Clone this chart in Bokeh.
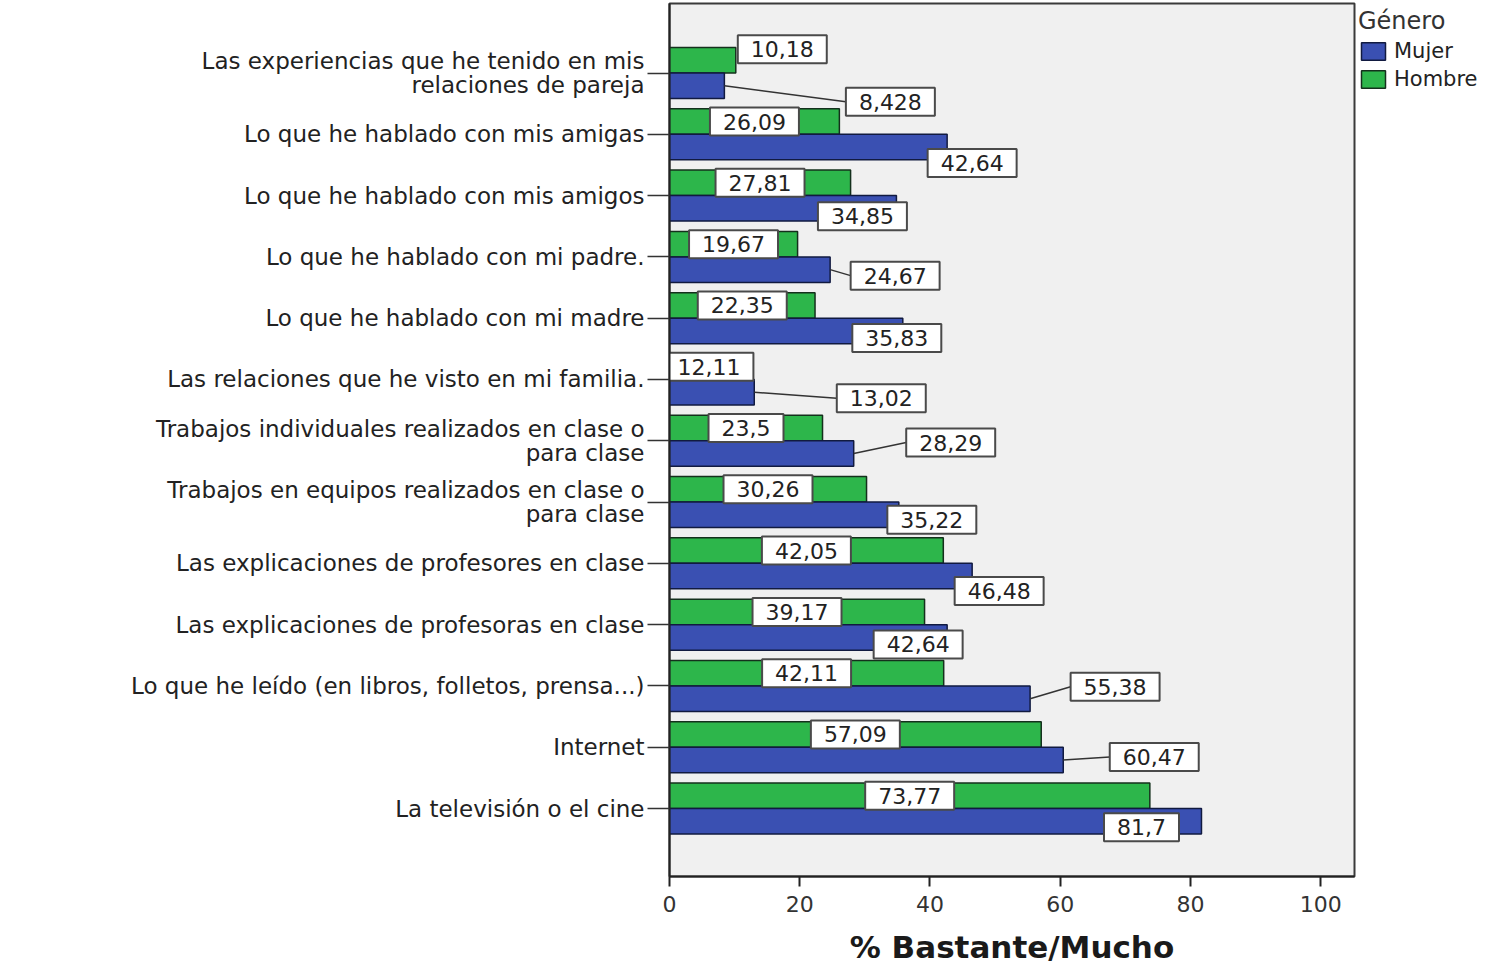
from bokeh.plotting import figure
from bokeh.models import Range1d, FixedTicker, Legend, LegendItem, ColumnDataSource
from bokeh.core.properties import value
from bokeh.embed import file_html
from bokeh.resources import INLINE

# ---------------- data ----------------
categories = [
    "Las experiencias que he tenido en mis\nrelaciones de pareja",
    "Lo que he hablado con mis amigas",
    "Lo que he hablado con mis amigos",
    "Lo que he hablado con mi padre.",
    "Lo que he hablado con mi madre",
    "Las relaciones que he visto en mi familia.",
    "Trabajos individuales realizados en clase o\npara clase",
    "Trabajos en equipos realizados en clase o\npara clase",
    "Las explicaciones de profesores en clase",
    "Las explicaciones de profesoras en clase",
    "Lo que he leído (en libros, folletos, prensa...)",
    "Internet",
    "La televisión o el cine",
]
mujer = [8.428, 42.64, 34.85, 24.67, 35.83, 13.02, 28.29, 35.22, 46.48, 42.64, 55.38, 60.47, 81.7]
hombre = [10.18, 26.09, 27.81, 19.67, 22.35, 12.11, 23.5, 30.26, 42.05, 39.17, 42.11, 57.09, 73.77]
series_names = ["Mujer", "Hombre"]
legend_title = "Género"
x_ticks = [0, 20, 40, 60, 80, 100]
x_title = "% Bastante/Mucho"

# placement of the Mujer value boxes (pixels from the bar end / bar centre, as laid out in the reference)
mujer_label_dx = [166, 25, -34, 65, -6, 127, 97, 33, 27, -29, 85, 91, -60]
mujer_label_dy = [16, 16, 8, 6, 7, 6, -11, 5, 15, 7, -12, -3, 6]

# ---------------- layout constants ----------------
FRAME_W, FRAME_H = 685, 873
X0, X1 = 0, 105.2
Y0, Y1 = -1.109, 13.134
pxu = FRAME_W / (X1 - X0)
pyu = FRAME_H / (Y1 - Y0)
BAR_H = 25.5 / pyu

BLUE = "#3a50b2"
GREEN = "#2db64b"
FONT = "DejaVu Sans"


def fmt(v):
    return str(v).replace(".", ",")


def half_box(txt):
    # approximate half width of a value box in px
    w = sum(7 if c == "," else 14 for c in txt)
    return w / 2 + 13


n = len(categories)
pos = [n - 1 - i for i in range(n)]

green_y = [p_ + BAR_H / 2 for p_ in pos]
blue_y = [p_ - BAR_H / 2 for p_ in pos]

# Hombre labels: centred on the bar; if the bar is too short, beside its end and slightly raised
g_lx, g_ly, g_txt = [], [], []
for v, yy in zip(hombre, green_y):
    t = fmt(v)
    hb = half_box(t)
    if v * pxu < 2 * hb - 20:
        g_lx.append(v + (hb + 2) / pxu)
        g_ly.append(yy + 11 / pyu)
    else:
        g_lx.append(v / 2)
        g_ly.append(yy)
    g_txt.append(t)

# Mujer labels with leader lines
m_lx, m_ly, m_txt = [], [], []
lx0, ly0, lx1, ly1 = [], [], [], []
for v, yy, dx, dy in zip(mujer, blue_y, mujer_label_dx, mujer_label_dy):
    t = fmt(v)
    cx = v + dx / pxu
    cy = yy - dy / pyu
    m_lx.append(cx)
    m_ly.append(cy)
    m_txt.append(t)
    left = cx - half_box(t) / pxu
    if left > v:
        lx0.append(v); ly0.append(yy); lx1.append(left); ly1.append(cy)

p = figure(
    width=1504, height=968,
    frame_width=FRAME_W, frame_height=FRAME_H,
    x_range=Range1d(X0, X1), y_range=Range1d(Y0, Y1),
    output_backend="svg", toolbar_location=None,
    min_border_left=669, min_border_right=150, min_border_top=3, min_border_bottom=92,
    background_fill_color="#f0f0f0", border_fill_color="white",
)
p.outline_line_color = "#3a3a3a"
p.outline_line_width = 2
p.xgrid.visible = False
p.ygrid.visible = False

src_g = ColumnDataSource(dict(y=green_y, right=hombre))
src_b = ColumnDataSource(dict(y=blue_y, right=mujer))
rg = p.hbar(y="y", right="right", left=0, height=BAR_H, source=src_g,
            fill_color=GREEN, line_color="#14301c", line_width=1.5)
rb = p.hbar(y="y", right="right", left=0, height=BAR_H, source=src_b,
            fill_color=BLUE, line_color="#111a40", line_width=1.5)

p.segment(x0=lx0, y0=ly0, x1=lx1, y1=ly1, line_color="#333333", line_width=1.5)

label_kw = dict(text_align="center", text_baseline="middle",
                text_font=value(FONT), text_font_size="22px", text_color="#222222",
                background_fill_color="white", border_line_color="#4a4a4a",
                border_line_width=2, padding=(13, 6))
p.text(x=g_lx, y=g_ly, text=g_txt, **label_kw)
p.text(x=m_lx, y=m_ly, text=m_txt, **label_kw)

# y axis
ya = p.yaxis[0]
ya.ticker = FixedTicker(ticks=pos)
ya.major_label_overrides = {pos[i]: categories[i] for i in range(n)}
ya.major_tick_out = 22
ya.major_tick_in = 0
ya.minor_tick_line_color = None
ya.major_tick_line_color = "#333333"
ya.major_tick_line_width = 1.5
ya.axis_line_color = "#222222"
ya.axis_line_width = 2
ya.major_label_standoff = 3
ya.major_label_text_font = FONT
ya.major_label_text_font_size = "23px"
ya.major_label_text_line_height = 0.92
ya.major_label_text_color = "#222222"

# x axis
xa = p.xaxis[0]
xa.ticker = FixedTicker(ticks=x_ticks)
xa.major_tick_out = 10
xa.major_tick_in = 0
xa.minor_tick_line_color = None
xa.major_tick_line_color = "#222222"
xa.major_tick_line_width = 2
xa.axis_line_color = "#222222"
xa.axis_line_width = 2
xa.major_label_standoff = 9
xa.major_label_text_font = FONT
xa.major_label_text_font_size = "22px"
xa.major_label_text_color = "#333333"
xa.axis_label = x_title
xa.axis_label_text_font = FONT
xa.axis_label_text_font_style = "bold"
xa.axis_label_text_font_size = "31px"
xa.axis_label_text_color = "#1a1a1a"
xa.axis_label_standoff = 14

legend = Legend(
    items=[LegendItem(label=series_names[0], renderers=[rb]),
           LegendItem(label=series_names[1], renderers=[rg])],
    title=legend_title, location="top_left",
    margin=4, padding=2, spacing=4,
    glyph_width=30, glyph_height=22, label_standoff=6,
    label_text_font=FONT, label_text_font_size="21px", label_text_color="#222222",
    title_text_font=FONT, title_text_font_size="24px", title_text_font_style="normal",
    title_text_color="#333333", title_standoff=4,
    border_line_color=None, background_fill_alpha=0,
)
p.add_layout(legend, "right")

open("out.html", "w").write(file_html(p, INLINE))
